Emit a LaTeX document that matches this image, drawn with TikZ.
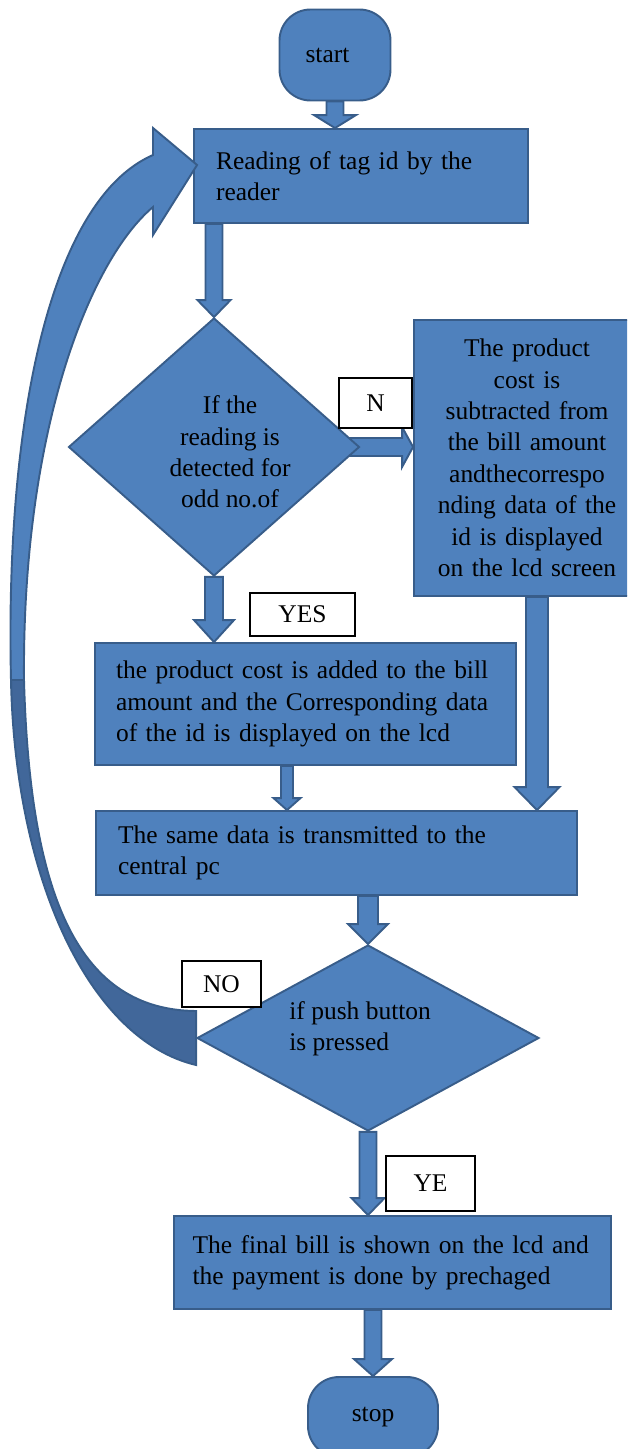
\documentclass[tikz,border=0pt]{standalone}
\usepackage{fontspec}
\setmainfont{Liberation Serif}
\usetikzlibrary{shapes.geometric,backgrounds}

\definecolor{boxblue}{HTML}{4F81BD}
\definecolor{edgeblue}{HTML}{385D8A}
\definecolor{darkblue}{HTML}{41679A}

\tikzset{
  flowfont/.style={font=\fontsize{14.5}{17.9}\selectfont},
  box/.style={draw=edgeblue, fill=boxblue, line width=1.1pt, rectangle,
    inner sep=0pt, align=left, flowfont},
  terminal/.style={box, align=center, rounded corners=0.62cm},
  decision/.style={draw=edgeblue, fill=boxblue, line width=1.1pt, diamond,
    inner sep=0pt},
  txt/.style={inner sep=0pt, flowfont},
  tag/.style={draw=black, fill=white, line width=0.8pt, inner sep=0pt, flowfont},
  blockarrow/.style={draw=edgeblue, fill=boxblue, line width=1.1pt},
}

% block arrow downwards: x from #1, from #2 to #3, half shaft, half head, head length
\newcommand{\blockdown}[6]{%
  \path (#1 |- #2) coordinate (bt) (#1 |- #3) coordinate (bh);
  \draw[blockarrow] ([shift={(-#4,0)}]bt) -- ([shift={(-#4,-#6)}]bh)
    -- ([shift={(-#5,-#6)}]bh) -- (bh) -- ([shift={(#5,-#6)}]bh)
    -- ([shift={(#4,-#6)}]bh) -- ([shift={(#4,0)}]bt) -- cycle;}

\begin{document}
\begin{tikzpicture}[x=0.02cm, y=-0.02cm]

  \useasboundingbox (0,0) rectangle (627,1449);
  \clip (0,0) rectangle (627,1449);

  % Start / stop
  \node[terminal, minimum width=2.22cm, minimum height=1.82cm] (start) at (335,55) {start\hspace*{0.3cm}};
  \node[terminal, minimum width=2.6cm, minimum height=1.6cm] (stop) at (373,1417) {stop};

  % Process boxes
  \node[box, text width=5.8cm, minimum width=6.68cm, minimum height=1.88cm] (read) at (361,176)
    {Reading of tag id by the\\reader};
  \node[box, align=center, text width=4.2cm, minimum width=4.52cm, minimum height=5.52cm] (sub) at (527,458)
    {The product\\cost is\\subtracted from\\the bill amount\\andthecorrespo\\nding data of the\\id is displayed\\on the lcd screen};
  \node[box, text width=7.58cm, minimum width=8.42cm, minimum height=2.44cm] (add) at (305.5,704)
    {\mbox{the product cost is added to the bill}\\\mbox{amount and the Corresponding data}\\of the id is displayed on the lcd};
  \node[box, text width=8.74cm, minimum width=9.62cm, minimum height=1.68cm] (send) at (336.5,853)
    {The same data is transmitted to the\\central pc};
  \node[box, text width=8.0cm, minimum width=8.74cm, minimum height=1.86cm] (final) at (392.5,1262.5)
    {\mbox{The final bill is shown on the lcd and}\\the payment is done by prechaged};

  % Decisions
  \node[decision, minimum width=5.82cm, minimum height=5.16cm] (dec1) at (214,447) {};
  \node[txt, align=center] (dec1txt) at (230,452) {If the\\reading is\\detected for\\odd no.of};
  \node[decision, minimum width=6.84cm, minimum height=3.72cm] (dec2) at (368,1038) {};
  \node[txt, align=left, anchor=west] (dec2txt) at (289,1029) {if push button\\is pressed};

  % Straight block arrows
  \blockdown{start.south}{start.south}{read.north}{8.5}{21}{13}
  \blockdown{dec1.north}{read.south}{dec1.north}{8.5}{16.5}{17}
  \blockdown{dec1.south}{dec1.south}{add.north}{9}{20}{22}
  \coordinate (subout) at ([shift={(10,0)}]sub.south);
  \blockdown{subout}{sub.south}{send.north}{11}{22.5}{23}
  \coordinate (addout) at ([shift={(-18.5,0)}]add.south);
  \blockdown{addout}{add.south}{send.north}{6}{13.5}{12}
  \blockdown{dec2.north}{send.south}{dec2.north}{10}{20}{20}
  \blockdown{dec2.south}{dec2.south}{final.north}{8.5}{16.5}{17}
  \blockdown{stop.north}{final.south}{stop.north}{8.5}{19}{17}

  % N branch
  \path (dec1.east) coordinate (nt) (sub.west |- dec1.east) coordinate (nh);
  \begin{scope}[on background layer]
    \draw[blockarrow] ([shift={(-20,-9)}]nt) -- ([shift={(-11,-9)}]nh)
      -- ([shift={(-11,-20)}]nh) -- (nh) -- ([shift={(-11,20)}]nh)
      -- ([shift={(-11,9)}]nh) -- ([shift={(-20,9)}]nt) -- cycle;
  \end{scope}

  % Loop back (NO branch)
  \coordinate (loopin) at ([shift={(4,-11)}]read.west);
  \coordinate (loopa) at ([shift={(0,-27)}]dec2.west);
  \coordinate (loopb) at ([shift={(0,27)}]dec2.west);
  \draw[blockarrow] (loopin) -- (153,128) -- (153,155)
    .. controls (50,200) and (5,420) .. (11,680) -- (24,680)
    .. controls (22,430) and (90,260) .. (153,207) -- (153,235) -- cycle;
  \draw[blockarrow, fill=darkblue] (11,680) .. controls (15,880) and (90,1040) .. (loopb)
    -- (loopa) .. controls (80,1010) and (30,900) .. (24,680) -- cycle;

  % Branch labels
  \node[tag, minimum width=1.46cm, minimum height=1.0cm] (lblN) at (375.5,403) {N};
  \node[tag, minimum width=2.1cm, minimum height=0.86cm] (lblYES) at (302.5,614.5) {YES};
  \node[tag, minimum width=1.58cm, minimum height=0.92cm] (lblNO) at (221.5,984) {NO};
  \node[tag, minimum width=1.78cm, minimum height=1.1cm] (lblYE) at (430.5,1183.5) {YE};

\end{tikzpicture}
\end{document}
